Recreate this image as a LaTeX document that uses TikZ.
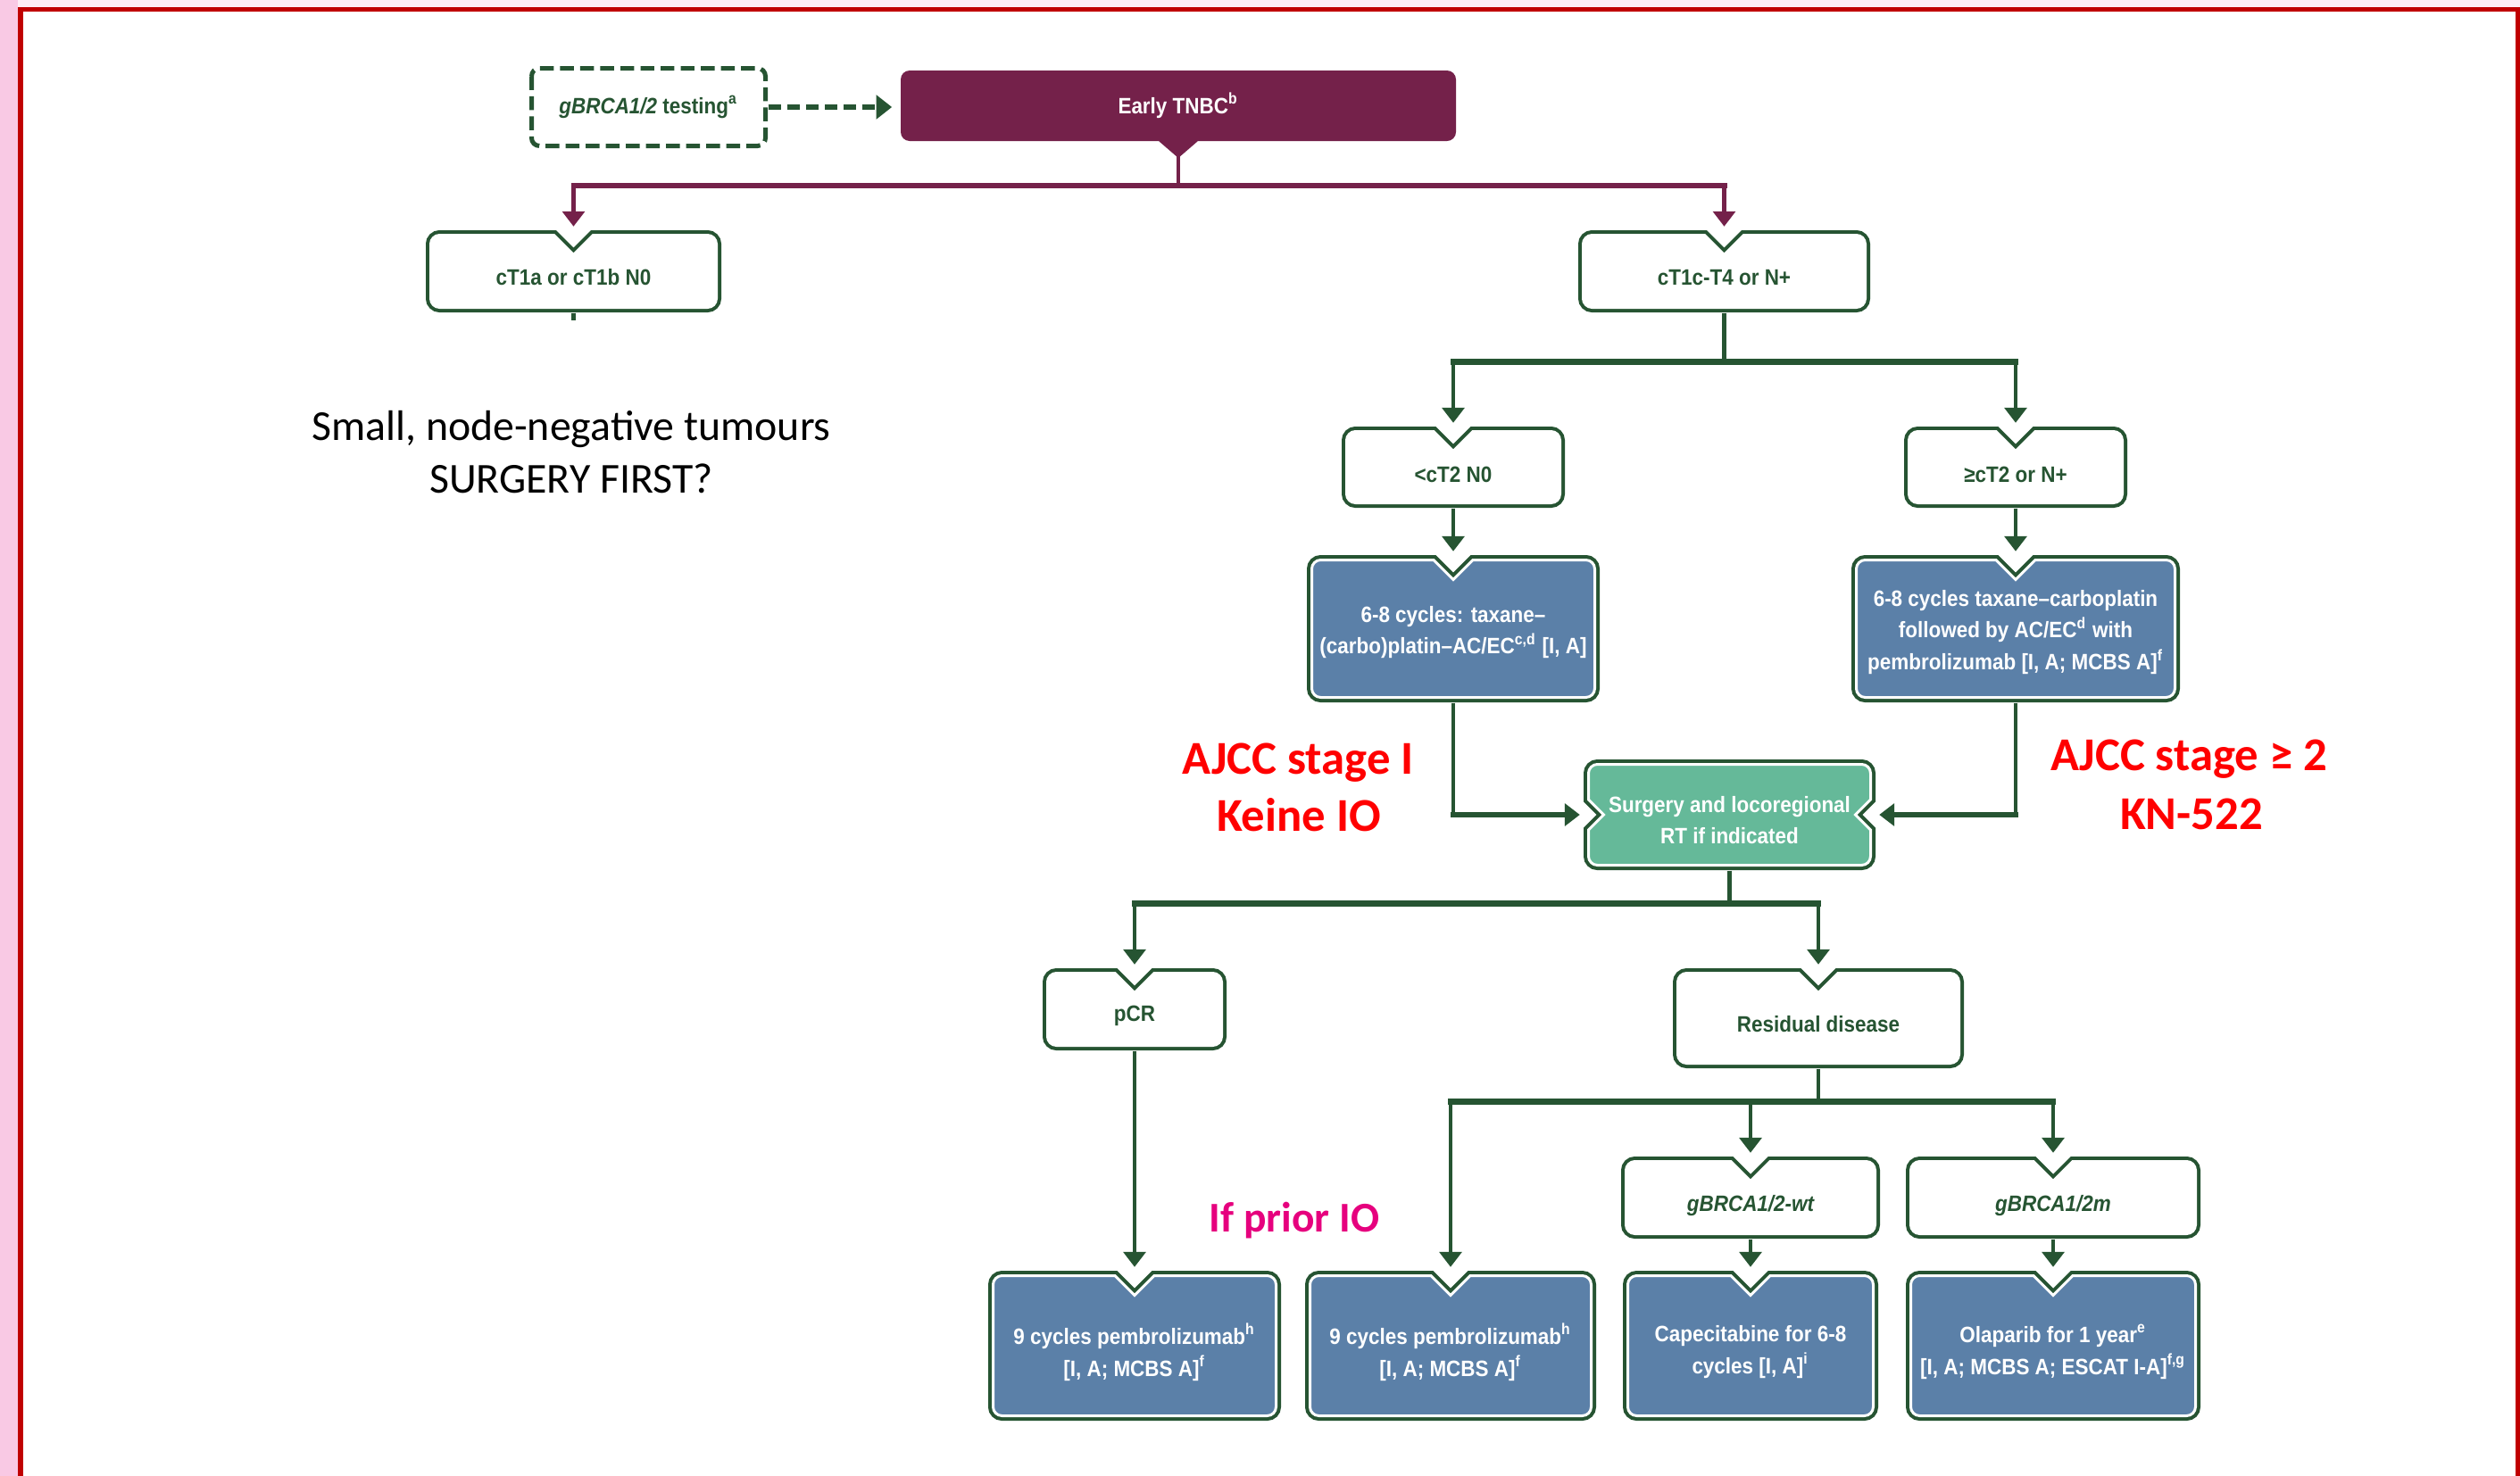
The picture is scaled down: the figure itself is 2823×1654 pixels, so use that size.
\documentclass[tikz,border=0pt]{standalone}
\usepackage{fontspec}
\setmainfont{Liberation Sans}
\newfontfamily\boxfont[FakeStretch=0.9]{Liberation Sans}
\newfontfamily\calfont{Carlito}
\usetikzlibrary{arrows.meta,fit,calc}

\definecolor{dg}{RGB}{38,84,50}
\definecolor{tnbcpurple}{RGB}{116,33,74}
\definecolor{boxblue}{RGB}{91,128,168}
\definecolor{mint}{RGB}{101,185,153}
\definecolor{redtext}{RGB}{255,0,0}
\definecolor{magentatext}{RGB}{230,0,126}
\definecolor{framered}{RGB}{192,0,0}
\definecolor{pinkside}{RGB}{249,201,228}
\definecolor{pinktop}{RGB}{253,238,245}

\def\bxr{10}\def\ntw{22}\def\ntd{22}\def\snw{17}\def\snd{17}

% box outline with a V notch in the top edge
\newcommand\tnpath[4]{({(#1)+\bxr},{-(#2)}) -- ({((#1)+(#3))/2-\ntw},{-(#2)}) -- ({((#1)+(#3))/2},{-(#2)-\ntd}) -- ({((#1)+(#3))/2+\ntw},{-(#2)}) -- ({(#3)-\bxr},{-(#2)}) arc[start angle=90,end angle=0,radius=\bxr] -- ({#3},{-(#4)+\bxr}) arc[start angle=0,end angle=-90,radius=\bxr] -- ({(#1)+\bxr},{-(#4)}) arc[start angle=270,end angle=180,radius=\bxr] -- ({#1},{-(#2)-\bxr}) arc[start angle=180,end angle=90,radius=\bxr] -- cycle}

% box outline with V notches in both side edges
\newcommand\snpath[4]{({(#1)+\bxr},{-(#2)}) -- ({(#3)-\bxr},{-(#2)}) arc[start angle=90,end angle=0,radius=\bxr] -- ({#3},{-((#2)+(#4))/2+\snw}) -- ({(#3)-\snd},{-((#2)+(#4))/2}) -- ({#3},{-((#2)+(#4))/2-\snw}) -- ({#3},{-(#4)+\bxr}) arc[start angle=0,end angle=-90,radius=\bxr] -- ({(#1)+\bxr},{-(#4)}) arc[start angle=270,end angle=180,radius=\bxr] -- ({#1},{-((#2)+(#4))/2-\snw}) -- ({(#1)+\snd},{-((#2)+(#4))/2}) -- ({#1},{-((#2)+(#4))/2+\snw}) -- ({#1},{-(#2)-\bxr}) arc[start angle=180,end angle=90,radius=\bxr] -- cycle}

\tikzset{
  boxtext/.style={font=\boxfont\bfseries\fontsize{7.1pt}{10.2pt}\selectfont, align=center, inner sep=0pt},
  vl/.style={draw=dg, line width=1.28pt},
  hl/.style={draw=dg, line width=1.85pt, line cap=rect},
  pvl/.style={draw=tnbcpurple, line width=1.28pt},
  phl/.style={draw=tnbcpurple, line width=1.7pt, line cap=rect},
  tip/.style={-{Triangle[length=4.8pt,width=7pt]}, shorten >=1pt},
  lbl/.style={font=\calfont\fontsize{13.6pt}{16pt}\selectfont, inner sep=0pt, anchor=base},
  redlbl/.style={font=\calfont\bfseries\fontsize{15pt}{16pt}\selectfont, text=redtext, inner sep=0pt, anchor=base},
  maglbl/.style={font=\calfont\bfseries\fontsize{13.5pt}{16pt}\selectfont, text=magentatext, inner sep=0pt, anchor=base},
}

% #1 name, #2 x1, #3 y1, #4 x2, #5 y2, #6 fill, #7 text colour, #8 text, #9 text shift (px, down)
\newcommand\tnbox[9]{%
  \draw[draw=dg, line width=3.13pt] \tnpath{#2+5.5}{#3+5.5}{#4-5.5}{#5-5.5};
  \draw[draw=white, fill=#6, line width=0.85pt] \tnpath{#2+5.5}{#3+5.5}{#4-5.5}{#5-5.5};
  \node[fit={(#2,-#3) (#4,-#5)}, inner sep=0pt] (#1) {};
  \node[boxtext, text=#7] (#1t) at ($(#1.center)+(0,-#9)$) {#8};
}
\newcommand\snbox[9]{%
  \draw[draw=dg, line width=3.13pt] \snpath{#2+5.5}{#3+5.5}{#4-5.5}{#5-5.5};
  \draw[draw=white, fill=#6, line width=0.85pt] \snpath{#2+5.5}{#3+5.5}{#4-5.5}{#5-5.5};
  \node[fit={(#2,-#3) (#4,-#5)}, inner sep=0pt] (#1) {};
  \node[boxtext, text=#7] (#1t) at ($(#1.center)+(0,-#9)$) {#8};
}

\begin{document}
\begin{tikzpicture}[x=0.01cm, y=0.01cm, line join=miter]
\fill[white] (0,0) rectangle (2823,-1654);
\useasboundingbox (0,0) rectangle (2823,-1654);
% frame
\fill[pinkside] (0,0) rectangle (20,-1654);
\fill[pinktop] (20,0) rectangle (2823,-8);
\draw[framered, line width=1.6pt] (23,-1654) -- (23,-10.5) -- (2821,-10.5) -- (2821,-1654);

% top row
\draw[dg, line width=1.42pt, dash pattern=on 4.4pt off 2pt, rounded corners=2.5pt] (595.5,-76.5) rectangle (857.5,-163.5);
\node[fit={(593,-74) (860,-166)}, inner sep=0pt] (gb) {};
\node[boxtext, text=dg] (gbt) at (gb.center) {\itshape gBRCA1/2\upshape\ testing\textsuperscript{a}};

\fill[tnbcpurple] (1019,-79) -- (1621,-79) arc[start angle=90,end angle=0,radius=10] -- (1631,-148) arc[start angle=0,end angle=-90,radius=10] -- (1342,-158) -- (1320,-177) -- (1298,-158) -- (1019,-158) arc[start angle=270,end angle=180,radius=10] -- (1009,-89) arc[start angle=180,end angle=90,radius=10] -- cycle;
\node[fit={(1009,-79) (1631,-158)}, inner sep=0pt] (tnbc) {};
\node[boxtext, text=white] (tnbct) at (tnbc.center) {Early TNBC\textsuperscript{b}};

% boxes
\tnbox{ct1a}{477}{258}{808}{350}{white}{dg}{cT1a or cT1b N0}{7}
\tnbox{ctc}{1768}{258}{2095}{350}{white}{dg}{cT1c-T4 or N+}{7}
\tnbox{ct2a}{1503}{478}{1753}{569}{white}{dg}{<cT2 N0}{8}
\tnbox{ct2b}{2133}{478}{2383}{569}{white}{dg}{≥cT2 or N+}{8}
\tnbox{b1}{1464}{622}{1792}{787}{boxblue}{white}{6-8 cycles: taxane–\\(carbo)platin–AC/EC\textsuperscript{c,d} [I, A]}{4}
\tnbox{b2}{2074}{622}{2442}{787}{boxblue}{white}{6-8 cycles taxane–carboplatin\\followed by AC/EC\textsuperscript{d} with\\pembrolizumab [I, A; MCBS A]\textsuperscript{f}}{4}
\snbox{surg}{1774}{851}{2101}{975}{mint}{white}{Surgery and locoregional\\RT if indicated}{6}
\tnbox{pcr}{1168}{1085}{1374}{1177}{white}{dg}{pCR}{7}
\tnbox{res}{1874}{1085}{2200}{1197}{white}{dg}{Residual disease}{7}
\tnbox{gw}{1816}{1296}{2106}{1388}{white}{dg}{\itshape gBRCA1/2-wt}{9}
\tnbox{gm}{2135}{1296}{2465}{1388}{white}{dg}{\itshape gBRCA1/2m}{9}
\tnbox{bb1}{1107}{1424}{1435}{1592}{boxblue}{white}{9 cycles pembrolizumab\textsuperscript{h}\\{}[I, A; MCBS A]\textsuperscript{f}}{7}
\tnbox{bb2}{1462}{1424}{1788}{1592}{boxblue}{white}{9 cycles pembrolizumab\textsuperscript{h}\\{}[I, A; MCBS A]\textsuperscript{f}}{7}
\tnbox{bb3}{1818}{1424}{2104}{1592}{boxblue}{white}{Capecitabine for 6-8\\cycles [I, A]\textsuperscript{i}}{7}
\tnbox{bb4}{2135}{1424}{2465}{1592}{boxblue}{white}{Olaparib for 1 year\textsuperscript{e}\\{}[I, A; MCBS A; ESCAT I-A]\textsuperscript{f,g}}{7}

% connectors
\draw[dg, line width=1.7pt, dash pattern=on 4pt off 2pt, -{Triangle[length=5pt,width=7.5pt]}, shorten >=2.6pt] (gb.east) -- (gb.east -| tnbc.west);

\draw[pvl] (tnbc.south) -- ++(0,-49) coordinate (pj);
\draw[phl] (ct1a.north |- pj) -- (ctc.north |- pj);
\draw[pvl, tip] (ct1a.north |- pj) -- (ct1a.north);
\draw[pvl, tip] (ctc.north |- pj) -- (ctc.north);

\draw[vl] (ct1a.south) -- ++(0,-8);

\draw[vl] (ctc.south) -- ++(0,-55) coordinate (j1);
\draw[hl] (ct2a.north |- j1) -- (ct2b.north |- j1);
\draw[vl, tip] (ct2a.north |- j1) -- (ct2a.north);
\draw[vl, tip] (ct2b.north |- j1) -- (ct2b.north);
\draw[vl, tip] (ct2a.south) -- (b1.north);
\draw[vl, tip] (ct2b.south) -- (b2.north);

\draw[vl] (b1.south) -- (b1.south |- surg.west);
\draw[hl, tip] (b1.south |- surg.west) -- (surg.west);
\draw[vl] (b2.south) -- (b2.south |- surg.east);
\draw[hl, tip] (b2.south |- surg.east) -- (surg.east);

\draw[vl] (surg.south) -- ++(0,-37) coordinate (j2);
\draw[hl] (pcr.north |- j2) -- (res.north |- j2);
\draw[vl, tip] (pcr.north |- j2) -- (pcr.north);
\draw[vl, tip] (res.north |- j2) -- (res.north);
\draw[vl, tip] (pcr.south) -- (bb1.north);

\draw[vl] (res.south) -- ++(0,-37) coordinate (j3);
\draw[hl] (bb2.north |- j3) -- (gm.north |- j3);
\draw[vl, tip] (bb2.north |- j3) -- (bb2.north);
\draw[vl, tip] (gw.north |- j3) -- (gw.north);
\draw[vl, tip] (gm.north |- j3) -- (gm.north);
\draw[vl, tip] (gw.south) -- (bb3.north);
\draw[vl, tip] (gm.south) -- (bb4.north);

% free labels
\node[lbl] (smallA) at (640,-493) {Small, node-negative tumours};
\node[lbl] (smallB) at (640,-552) {SURGERY FIRST?};
\node[redlbl] (ajccA) at (1454,-867) {AJCC stage I};
\node[redlbl] (ajccB) at (1455,-931) {Keine IO};
\node[redlbl] (ajccC) at (2452,-863) {AJCC stage ≥ 2};
\node[redlbl] (ajccD) at (2455,-929) {KN-522};
\node[maglbl] (prior) at (1450,-1380) {If prior IO};
\end{tikzpicture}
\end{document}
